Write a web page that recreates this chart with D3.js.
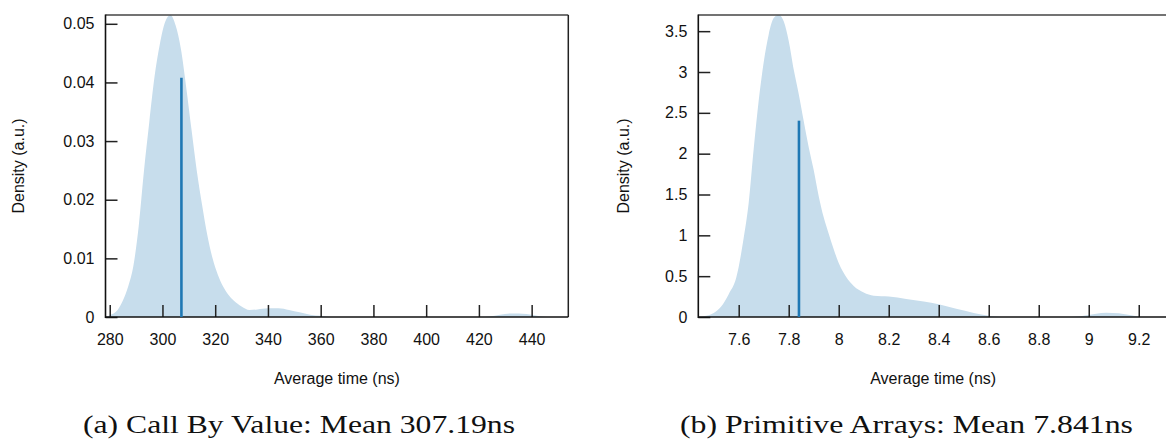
<!DOCTYPE html>
<html>
<head>
<meta charset="utf-8">
<script src="https://cdn.jsdelivr.net/npm/d3@7"></script>
<style>
  html, body { margin: 0; padding: 0; background: #fff; }
  svg { display: block; }
  .tick text { font-family: "Liberation Sans", Arial, sans-serif; font-size: 16px; fill: #111; }
</style>
</head>
<body>
<svg id="chart" width="1166" height="442"></svg>
<script>
// ---------- Data: (a) Call By Value ----------
const timesA = [278.5, 280, 283, 285, 287, 289, 291, 293, 295, 297, 299, 301, 303, 305, 307, 309, 311, 313, 315, 317, 319, 321, 323, 325, 327, 330, 333, 336, 340, 344, 348, 352, 356, 360, 364, 420, 424, 428, 432, 435, 438, 442, 446, 454];
const densityA = [0, 0.0003, 0.0012, 0.0028, 0.0052, 0.0088, 0.0155, 0.0250, 0.0332, 0.0410, 0.0465, 0.0503, 0.0515, 0.0497, 0.0457, 0.0392, 0.0320, 0.0250, 0.0192, 0.0140, 0.0100, 0.0072, 0.0052, 0.0038, 0.0028, 0.0018, 0.0012, 0.0013, 0.0015, 0.0015, 0.0012, 0.0008, 0.0004, 0.0002, 0, 0, 0.0001, 0.0004, 0.0006, 0.0006, 0.0005, 0.0002, 0, 0];
const meanA = 307.19;
const meanDensityA = 0.0408;
const xDomainA = [278.4, 453.9];
const yDomainA = [0, 0.0515];
const xTicksA = [280, 300, 320, 340, 360, 380, 400, 420, 440];
const xTickLabelsA = ["280", "300", "320", "340", "360", "380", "400", "420", "440"];
const yTicksA = [0, 0.01, 0.02, 0.03, 0.04, 0.05];
const yTickLabelsA = ["0", "0.01", "0.02", "0.03", "0.04", "0.05"];
const captionA = "(a) Call By Value: Mean 307.19ns";

// ---------- Data: (b) Primitive Arrays ----------
const timesB = [7.44, 7.46, 7.50, 7.53, 7.56, 7.59, 7.62, 7.64, 7.66, 7.68, 7.70, 7.72, 7.74, 7.76, 7.78, 7.80, 7.82, 7.84, 7.86, 7.88, 7.90, 7.92, 7.94, 7.96, 7.98, 8.00, 8.03, 8.06, 8.10, 8.14, 8.20, 8.27, 8.34, 8.40, 8.47, 8.54, 8.60, 8.65, 8.93, 8.98, 9.03, 9.07, 9.12, 9.17, 9.21, 9.32];
const densityB = [0, 0.01, 0.05, 0.13, 0.28, 0.48, 0.97, 1.40, 2.06, 2.65, 3.12, 3.46, 3.66, 3.70, 3.62, 3.38, 3.03, 2.73, 2.40, 2.08, 1.80, 1.48, 1.22, 1.02, 0.83, 0.66, 0.49, 0.38, 0.30, 0.26, 0.25, 0.22, 0.19, 0.155, 0.10, 0.05, 0.015, 0, 0, 0.015, 0.04, 0.053, 0.045, 0.02, 0, 0];
const meanB = 7.841;
const meanDensityB = 2.404;
const xDomainB = [7.4384, 9.317];
const yDomainB = [0, 3.698];
const xTicksB = [7.6, 7.8, 8, 8.2, 8.4, 8.6, 8.8, 9, 9.2];
const xTickLabelsB = ["7.6", "7.8", "8", "8.2", "8.4", "8.6", "8.8", "9", "9.2"];
const yTicksB = [0, 0.5, 1, 1.5, 2, 2.5, 3, 3.5];
const yTickLabelsB = ["0", "0.5", "1", "1.5", "2", "2.5", "3", "3.5"];
const captionB = "(b) Primitive Arrays: Mean 7.841ns";

const xLabel = "Average time (ns)";
const yLabel = "Density (a.u.)";

// ---------- Drawing ----------
const svg = d3.select("#chart");
const FILL = "rgb(199,221,236)";
const MEAN = "#1f78b4";
const SANS = '"Liberation Sans", Arial, sans-serif';
const SERIF = '"Liberation Serif", "Times New Roman", serif';

function panel(cfg) {
  const { id, left, right, top, bottom, times, density, mean, meanDensity,
          xDomain, yDomain, xTicks, xTickLabels, yTicks, yTickLabels,
          caption, captionX, captionLen, yLabelX } = cfg;
  const x = d3.scaleLinear().domain(xDomain).range([left, right]);
  const y = d3.scaleLinear().domain(yDomain).range([bottom, top]);
  const g = svg.append("g");

  g.append("clipPath").attr("id", "clip" + id)
    .append("rect").attr("x", left).attr("y", top)
    .attr("width", right - left).attr("height", bottom - top);

  const pts = times.map((t, i) => [t, density[i]]);
  const area = d3.area()
    .x(d => x(d[0])).y0(y(0)).y1(d => y(d[1]))
    .curve(d3.curveMonotoneX);
  g.append("path").datum(pts)
    .attr("clip-path", "url(#clip" + id + ")")
    .attr("fill", FILL).attr("d", area);

  // axes with inward ticks
  const xAxis = d3.axisBottom(x).tickValues(xTicks)
    .tickFormat((d, i) => xTickLabels[i]).tickSize(-12).tickPadding(16.5);
  const gx = g.append("g").attr("transform", `translate(0,${bottom})`).call(xAxis);
  gx.select(".domain").remove();
  gx.selectAll(".tick line").attr("stroke", "#222").attr("stroke-width", 1.5);

  const yAxis = d3.axisLeft(y).tickValues(yTicks)
    .tickFormat((d, i) => yTickLabels[i]).tickSize(-12).tickPadding(11);
  const gy = g.append("g").attr("transform", `translate(${left},0)`).call(yAxis);
  gy.select(".domain").remove();
  gy.selectAll(".tick line").attr("stroke", "#222").attr("stroke-width", 1.5);

  // frame
  g.append("line").attr("x1", left).attr("x2", right).attr("y1", top).attr("y2", top)
    .attr("stroke", "#444").attr("stroke-width", 1.3);
  g.append("line").attr("x1", right).attr("x2", right).attr("y1", top).attr("y2", bottom)
    .attr("stroke", "#222").attr("stroke-width", 1.5);
  g.append("line").attr("x1", left).attr("x2", left).attr("y1", top - 0.6).attr("y2", bottom + 1)
    .attr("stroke", "#111").attr("stroke-width", 1.6);
  g.append("line").attr("x1", left).attr("x2", right).attr("y1", bottom).attr("y2", bottom)
    .attr("stroke", "#111").attr("stroke-width", 1.6);

  // mean line
  g.append("line")
    .attr("x1", x(mean)).attr("x2", x(mean))
    .attr("y1", y(0)).attr("y2", y(meanDensity))
    .attr("stroke", MEAN).attr("stroke-width", 2.6);

  // axis titles
  g.append("text").attr("x", (left + right) / 2).attr("y", 384)
    .attr("text-anchor", "middle").attr("font-family", SANS).attr("font-size", 16)
    .attr("fill", "#111").text(xLabel);
  g.append("text")
    .attr("transform", `translate(${yLabelX},166) rotate(-90)`)
    .attr("text-anchor", "middle").attr("font-family", SANS).attr("font-size", 16)
    .attr("fill", "#111").text(yLabel);

  // caption
  g.append("text").attr("x", captionX).attr("y", 433)
    .attr("font-family", SERIF).attr("font-size", 25)
    .attr("textLength", captionLen).attr("lengthAdjust", "spacingAndGlyphs")
    .attr("fill", "#111").text(caption);
}

panel({ id: "A", left: 105.5, right: 568.3, top: 15, bottom: 317,
  times: timesA, density: densityA, mean: meanA, meanDensity: meanDensityA,
  xDomain: xDomainA, yDomain: yDomainA, xTicks: xTicksA, xTickLabels: xTickLabelsA,
  yTicks: yTicksA, yTickLabels: yTickLabelsA, caption: captionA,
  captionX: 83, captionLen: 432, yLabelX: 24 });

panel({ id: "B", left: 698.3, right: 1168, top: 15, bottom: 317,
  times: timesB, density: densityB, mean: meanB, meanDensity: meanDensityB,
  xDomain: xDomainB, yDomain: yDomainB, xTicks: xTicksB, xTickLabels: xTickLabelsB,
  yTicks: yTicksB, yTickLabels: yTickLabelsB, caption: captionB,
  captionX: 680, captionLen: 453, yLabelX: 629 });
</script>
</body>
</html>
